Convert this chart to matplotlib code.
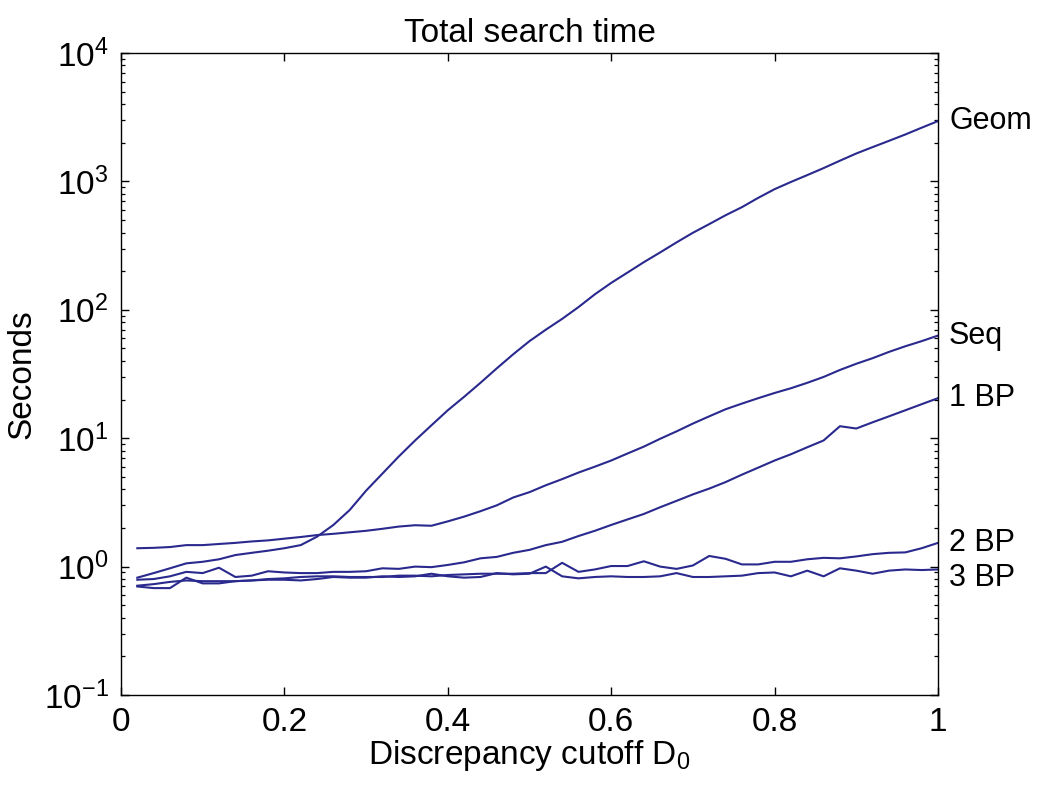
import matplotlib
matplotlib.use("Agg")
import matplotlib.pyplot as plt
import numpy as np

plt.rcParams['font.family'] = ['Liberation Sans', 'DejaVu Sans']
plt.rcParams['mathtext.fontset'] = 'custom'
plt.rcParams['mathtext.rm'] = 'Liberation Sans'
plt.rcParams['mathtext.it'] = 'Liberation Sans'

# discrepancy cutoff values
cutoff = [0.02, 0.04, 0.06, 0.08, 0.10, 0.12, 0.14, 0.16, 0.18, 0.20,
          0.22, 0.24, 0.26, 0.28, 0.30, 0.32, 0.34, 0.36, 0.38, 0.40,
          0.42, 0.44, 0.46, 0.48, 0.50, 0.52, 0.54, 0.56, 0.58, 0.60,
          0.62, 0.64, 0.66, 0.68, 0.70, 0.72, 0.74, 0.76, 0.78, 0.80,
          0.82, 0.84, 0.86, 0.88, 0.90, 0.92, 0.94, 0.96, 0.98, 1.00]

geom = [0.82, 0.89, 0.97, 1.06, 1.09, 1.14, 1.23, 1.28, 1.33, 1.39,
        1.47, 1.71, 2.11, 2.76, 3.9, 5.3, 7.2, 9.6, 12.6, 16.5,
        21, 27, 35, 45, 57, 70, 85, 105, 132, 162,
        195, 235, 280, 335, 398, 465, 545, 630, 745, 870,
        990, 1120, 1270, 1450, 1650, 1850, 2070, 2320, 2620, 2950]

seq = [1.39, 1.40, 1.42, 1.47, 1.47, 1.50, 1.53, 1.57, 1.60, 1.65,
       1.70, 1.76, 1.80, 1.85, 1.90, 1.97, 2.05, 2.10, 2.08, 2.25,
       2.45, 2.70, 3.00, 3.45, 3.80, 4.30, 4.80, 5.40, 6.00, 6.70,
       7.60, 8.60, 9.90, 11.3, 13.0, 14.8, 16.8, 18.6, 20.5, 22.5,
       24.5, 27.0, 30.0, 34.0, 38.0, 42.0, 47.0, 52.0, 57.0, 63.0]

bp1 = [0.79, 0.80, 0.84, 0.91, 0.89, 0.98, 0.83, 0.85, 0.92, 0.90,
       0.89, 0.89, 0.91, 0.91, 0.92, 0.97, 0.96, 1.00, 0.99, 1.03,
       1.08, 1.16, 1.19, 1.28, 1.35, 1.47, 1.56, 1.73, 1.90, 2.11,
       2.33, 2.57, 2.90, 3.25, 3.65, 4.05, 4.55, 5.20, 5.90, 6.70,
       7.50, 8.50, 9.60, 12.4, 11.9, 13.3, 14.8, 16.5, 18.4, 20.5]

bp2 = [0.71, 0.73, 0.76, 0.78, 0.77, 0.77, 0.77, 0.78, 0.80, 0.81,
       0.83, 0.84, 0.84, 0.83, 0.83, 0.83, 0.85, 0.85, 0.84, 0.86,
       0.87, 0.88, 0.88, 0.88, 0.89, 0.89, 1.07, 0.91, 0.95, 1.01,
       1.01, 1.10, 1.00, 0.96, 1.02, 1.21, 1.15, 1.04, 1.04, 1.09,
       1.09, 1.14, 1.17, 1.16, 1.20, 1.25, 1.28, 1.29, 1.39, 1.53]

bp3 = [0.70, 0.68, 0.68, 0.82, 0.74, 0.74, 0.77, 0.78, 0.79, 0.79,
       0.78, 0.80, 0.83, 0.82, 0.82, 0.84, 0.83, 0.84, 0.88, 0.84,
       0.82, 0.83, 0.89, 0.87, 0.88, 1.00, 0.84, 0.81, 0.83, 0.84,
       0.83, 0.83, 0.84, 0.89, 0.83, 0.83, 0.84, 0.85, 0.89, 0.90,
       0.84, 0.93, 0.84, 0.97, 0.93, 0.88, 0.93, 0.95, 0.94, 0.95]

series = [geom, seq, bp1, bp2, bp3]
names = ['Geom', 'Seq', '1 BP', '2 BP', '3 BP']
label_nudge = [1.0, 1.0, 1.0, 1.0, 0.86]

xtick_vals = [0, 0.2, 0.4, 0.6, 0.8, 1]
xtick_labels = ['0', '0.2', '0.4', '0.6', '0.8', '1']

line_color = '#29298e'
FS = 24

fig = plt.figure(figsize=(10.5, 7.95), dpi=100)
ax = fig.add_axes([0.1152, 0.1258, 0.7781, 0.8075])

for ys, name, nudge in zip(series, names, label_nudge):
    ax.plot(cutoff, ys, color=line_color, lw=1.5)
    ax.annotate(name, xy=(1.0, ys[-1] * nudge), xycoords=('axes fraction', 'data'),
                xytext=(8, 0), textcoords='offset points',
                va='center', ha='left', fontsize=22, annotation_clip=False)

ax.set_yscale('log')
ax.set_xlim(0, 1)
ax.set_ylim(1e-1, 1e4)
ax.set_xticks(xtick_vals)
ax.set_xticklabels(xtick_labels)
ax.set_yticks([1e-1, 1e0, 1e1, 1e2, 1e3, 1e4])

ax.tick_params(which='both', direction='in', top=True, right=True, labelsize=FS)
ax.tick_params(which='major', length=6, width=1.0, pad=9)
ax.tick_params(which='minor', length=3, width=0.9)
for s in ax.spines.values():
    s.set_linewidth(1.0)

ax.set_title('Total search time', fontsize=FS, pad=8)
ax.set_xlabel('Discrepancy cutoff D$_0$', fontsize=FS, labelpad=0)
ax.set_ylabel('Seconds', fontsize=FS, labelpad=4)

fig.savefig('out.png', dpi=100)
